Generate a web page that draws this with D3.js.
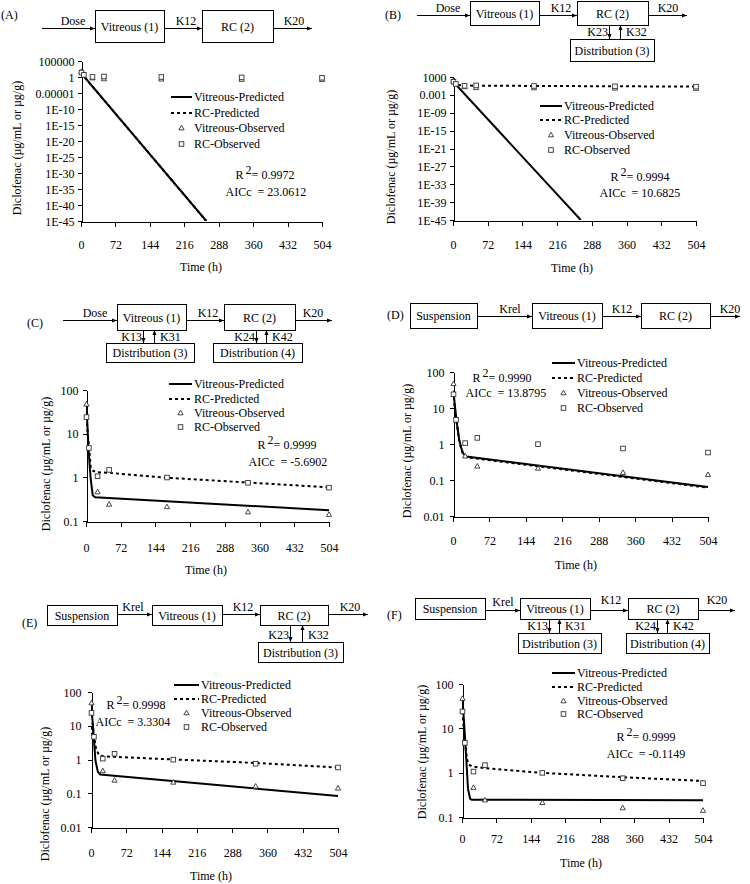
<!DOCTYPE html>
<html><head><meta charset="utf-8">
<script src="https://cdn.jsdelivr.net/npm/d3@7"></script>
<style>
body{margin:0;background:#fff}
svg{display:block;background:#fff}
text{font-family:"Liberation Serif","Times New Roman",serif;font-size:12px;fill:#000}
</style>
</head><body><svg id="c" width="750" height="884"></svg>
<script>
// ---------- data ----------
const xTicks = [0,72,144,216,288,360,432,504];

const vitObsTime = [1,24,48,168,336,504];
const vitObs     = [47,0.46,0.24,0.21,0.16,0.14];
const rcObsTime  = [1,6,24,48,168,336,504];
const rcObs      = [24,4.7,1.06,1.48,0.99,0.75,0.58];

const yTicksA  = [1e5,1,1e-5,1e-10,1e-15,1e-20,1e-25,1e-30,1e-35,1e-40,1e-45];
const yLabelsA = ["100000","1","0.00001","1E-10","1E-15","1E-20","1E-25","1E-30","1E-35","1E-40","1E-45"];
const yTicksB  = [1e3,1e-3,1e-9,1e-15,1e-21,1e-27,1e-33,1e-39,1e-45];
const yLabelsB = ["1000","0.001","1E-09","1E-15","1E-21","1E-27","1E-33","1E-39","1E-45"];
const yTicks3  = [100,10,1,0.1];
const yLabels3 = ["100","10","1","0.1"];
const yTicks4  = [100,10,1,0.1,0.01];
const yLabels4 = ["100","10","1","0.1","0.01"];

const vitPredTimeA = [0,262];
const vitPredA     = [20,1e-45];
const rcPredTimeA  = [0,262];
const rcPredA      = [20,1e-45];

const vitPredTimeB = [0,265];
const vitPredB     = [30,1e-45];
const rcPredTimeB  = [0,4,10,24,168,504];
const rcPredB      = [20,5,2,1.3,1.0,0.6];

const vitPredTimeC = [0,2,5,8,10,14,19,504];
const vitPredC     = [45,25,5.1,1.6,0.87,0.39,0.35,0.177];
const rcPredTimeC  = [1,4,7,10,15,24,48,168,336,504];
const rcPredC      = [24,9,4,1.6,1.4,1.3,1.27,0.98,0.76,0.59];

const vitPredTimeD = [0,2,5,8,12,16,20,26,504];
const vitPredD     = [30,20,8,3.5,1.4,0.8,0.55,0.45,0.064];
const rcPredTimeD  = [1,5,8,12,16,20,26,504];
const rcPredD      = [20,7,3.2,1.3,0.75,0.52,0.43,0.061];

const vitPredTimeE = [0,3,6,9,14,19,504];
const vitPredE     = [40,15,4,0.95,0.43,0.36,0.083];
const rcPredTimeE  = [0.5,3,6,10,16,26,168,336,504];
const rcPredE      = [5,12,5.5,2.2,1.35,1.24,1.0,0.79,0.58];

const vitPredTimeF = [0,3,6,9,12.5,17,20,504];
const vitPredF     = [50,22,7,2,0.43,0.26,0.245,0.24];
const rcPredTimeF  = [1,4,7,10,13,21,48,168,336,504];
const rcPredF      = [24,9,4.2,2.2,1.55,1.38,1.26,0.99,0.79,0.65];

const legendLabels = ["Vitreous-Predicted","RC-Predicted","Vitreous-Observed","RC-Observed"];

// ---------- drawing ----------
const svg = d3.select('#c');
const defs = svg.append('defs');
defs.append('marker').attr('id','ah').attr('viewBox','0 0 10 10')
  .attr('refX',10).attr('refY',5).attr('markerWidth',5).attr('markerHeight',5)
  .attr('markerUnits','userSpaceOnUse').attr('orient','auto')
  .append('path').attr('d','M0,1L10,5L0,9Z').attr('fill','#000');

const MARK = '#333';
function tri(g,cx,cy){ g.append('path').attr('d',`M${cx},${cy-2.8}L${cx+2.6},${cy+1.8}L${cx-2.6},${cy+1.8}Z`).attr('fill','#fff').attr('stroke',MARK).attr('stroke-width',0.9); }
function sq(g,cx,cy){ g.append('rect').attr('x',cx-2.3).attr('y',cy-2.3).attr('width',4.6).attr('height',4.6).attr('fill','#fff').attr('stroke',MARK).attr('stroke-width',0.9); }

function box(x1,y1,x2,y2,label){
  svg.append('rect').attr('x',x1+.5).attr('y',y1+.5).attr('width',x2-x1).attr('height',y2-y1)
    .attr('fill','#fff').attr('stroke','#000').attr('stroke-width',1);
  svg.append('text').attr('x',(x1+x2)/2).attr('y',(y1+y2)/2+4.5).attr('text-anchor','middle').text(label);
}
function harrow(x1,x2,y,label,lx,ly){
  svg.append('line').attr('x1',x1).attr('x2',x2).attr('y1',y+.5).attr('y2',y+.5)
    .attr('stroke','#000').attr('stroke-width',1).attr('marker-end','url(#ah)');
  if(label) svg.append('text').attr('x',lx).attr('y',ly).attr('text-anchor','middle').text(label);
}
function vpair(xd,xu,y1,y2,ll,rl,ty){
  svg.append('line').attr('x1',xd+.5).attr('x2',xd+.5).attr('y1',y1).attr('y2',y2)
    .attr('stroke','#000').attr('marker-end','url(#ah)');
  svg.append('line').attr('x1',xu+.5).attr('x2',xu+.5).attr('y1',y2).attr('y2',y1)
    .attr('stroke','#000').attr('marker-end','url(#ah)');
  svg.append('text').attr('x',xd-1).attr('y',ty).attr('text-anchor','end').text(ll);
  svg.append('text').attr('x',xu+6).attr('y',ty).text(rl);
}
function plabel(x,y,t){ svg.append('text').attr('x',x).attr('y',y).text(t); }

function drawPanel(p){
  const g = svg.append('g');
  const x = d3.scaleLinear().domain([0,504]).range([p.x0,p.x1]);
  const y = d3.scaleLog().domain(p.yDomain).range([p.yBot,p.yTop]);
  const cid = 'clip'+p.id;
  defs.append('clipPath').attr('id',cid).append('rect')
    .attr('x',p.x0).attr('y',p.yTop-20).attr('width',p.x1-p.x0+8).attr('height',p.yBot-p.yTop+20);

  const ya = d3.axisLeft(y).tickValues(p.yTicks).tickFormat((d,i)=>p.yLabels[i])
    .tickSize(4).tickSizeOuter(0).tickPadding(p.yPad);
  const gy = g.append('g').attr('transform',`translate(${p.x0+.5},0)`).call(ya);
  gy.selectAll('text').attr('dy','0.34em');
  const xa = d3.axisBottom(x).tickValues(xTicks).tickSize(5).tickSizeOuter(0);
  const gx = g.append('g').attr('transform',`translate(0,${p.yBot+.5})`).call(xa);
  gx.selectAll('text').attr('y',p.xLabY-p.yBot).attr('dy',0);
  g.selectAll('.domain, .tick line').attr('stroke','#000').attr('shape-rendering','crispEdges');

  const line = d3.line().x(d=>x(d[0])).y(d=>y(d[1]));
  const pl = g.append('g').attr('clip-path',`url(#${cid})`);
  pl.append('path').attr('d',line(d3.zip(p.rcT,p.rcV))).attr('fill','none')
    .attr('stroke','#000').attr('stroke-width',2).attr('stroke-dasharray','3,3');
  pl.append('path').attr('d',line(d3.zip(p.vitT,p.vitV))).attr('fill','none')
    .attr('stroke','#000').attr('stroke-width',2);

  const mk = g.append('g');
  d3.zip(vitObsTime,vitObs).forEach(d=>tri(mk,x(d[0]),y(d[1])));
  d3.zip(rcObsTime,rcObs).forEach(d=>sq(mk,x(d[0]),y(d[1])));

  // axis titles
  g.append('text').attr('x',p.tX).attr('y',p.tY).attr('text-anchor','middle').text('Time (h)');
  g.append('text').attr('transform',`translate(${p.ytX},${p.ytY}) rotate(-90)`)
    .attr('text-anchor','middle').attr('dy','0.35em').text('Diclofenac (µg/mL or µg/g)');

  // legend
  const L = p.leg, lg = g.append('g');
  lg.append('line').attr('x1',L.x1).attr('x2',L.x2).attr('y1',L.ys[0]).attr('y2',L.ys[0]).attr('stroke','#000').attr('stroke-width',2);
  lg.append('line').attr('x1',L.x1).attr('x2',L.x2).attr('y1',L.ys[1]).attr('y2',L.ys[1]).attr('stroke','#000').attr('stroke-width',2).attr('stroke-dasharray','3,3');
  tri(lg,(L.x1+L.x2)/2,L.ys[2]);
  sq(lg,(L.x1+L.x2)/2,L.ys[3]);
  legendLabels.forEach((t,i)=>lg.append('text').attr('x',L.x2+2).attr('y',L.ys[i]).attr('dy','0.35em').text(t));

  // fit stats
  const t1 = g.append('text').attr('x',p.r2X).attr('y',p.r2Y).attr('text-anchor','middle');
  t1.append('tspan').text('R');
  t1.append('tspan').attr('dx',2).attr('dy',-5).text('2');
  t1.append('tspan').attr('dy',5).text('= '+p.r2);
  g.append('text').attr('x',p.aX).attr('y',p.aY).attr('text-anchor','middle')
    .style('white-space','pre').text('AICc  = '+p.aic);
}

// ---------- panels ----------
const panels = [
 {id:'A',x0:81,x1:322,yTop:61,yBot:221,yDomain:[1e-45,1e5],yTicks:yTicksA,yLabels:yLabelsA,yPad:3,
  xLabY:248,tX:201,tY:271,ytX:17,ytY:148,
  leg:{x1:171,x2:192,ys:[97,113,128,144]},r2X:265,r2Y:179,aX:266,aY:196,r2:'0.9972',aic:'23.0612',
  vitT:vitPredTimeA,vitV:vitPredA,rcT:rcPredTimeA,rcV:rcPredA},
 {id:'B',x0:453,x1:696,yTop:77,yBot:220,yDomain:[1e-45,1e3],yTicks:yTicksB,yLabels:yLabelsB,yPad:3,
  xLabY:248,tX:572,tY:272,ytX:391,ytY:157,
  leg:{x1:540,x2:562,ys:[106,120,135,150]},r2X:640,r2Y:181,aX:640,aY:197,r2:'0.9994',aic:'10.6825',
  vitT:vitPredTimeB,vitV:vitPredB,rcT:rcPredTimeB,rcV:rcPredB},
 {id:'C',x0:86,x1:329,yTop:390,yBot:521,yDomain:[0.1,100],yTicks:yTicks3,yLabels:yLabels3,yPad:4,
  xLabY:551,tX:206,tY:574,ytX:46,ytY:464,
  leg:{x1:169,x2:192,ys:[384,399,413,427]},r2X:287,r2Y:449,aX:288,aY:466,r2:'0.9999',aic:'-5.6902',
  vitT:vitPredTimeC,vitV:vitPredC,rcT:rcPredTimeC,rcV:rcPredC},
 {id:'D',x0:453,x1:708,yTop:372,yBot:516,yDomain:[0.01,100],yTicks:yTicks4,yLabels:yLabels4,yPad:5,
  xLabY:544,tX:576,tY:569,ytX:407,ytY:451,
  leg:{x1:552,x2:575,ys:[363,378,393,408]},r2X:502,r2Y:382,aX:506,aY:397,r2:'0.9990',aic:'13.8795',
  vitT:vitPredTimeD,vitV:vitPredD,rcT:rcPredTimeD,rcV:rcPredD},
 {id:'E',x0:91,x1:338,yTop:692,yBot:827,yDomain:[0.01,100],yTicks:yTicks4,yLabels:yLabels4,yPad:6,
  xLabY:856,tX:211,tY:880,ytX:45,ytY:794,
  leg:{x1:174,x2:199,ys:[685,699,713,727]},r2X:136,r2Y:709,aX:133,aY:726,r2:'0.9998',aic:'3.3304',
  vitT:vitPredTimeE,vitV:vitPredE,rcT:rcPredTimeE,rcV:rcPredE},
 {id:'F',x0:462,x1:703,yTop:684,yBot:817,yDomain:[0.1,100],yTicks:yTicks3,yLabels:yLabels3,yPad:5,
  xLabY:842,tX:581,tY:867,ytX:422,ytY:752,
  leg:{x1:552,x2:575,ys:[673,687,701,714]},r2X:646,r2Y:741,aX:646,aY:758,r2:'0.9999',aic:'-0.1149',
  vitT:vitPredTimeF,vitV:vitPredF,rcT:rcPredTimeF,rcV:rcPredF}
];
panels.forEach(drawPanel);

// ---------- compartment diagrams ----------
// A
plabel(1,19,'(A)');
harrow(42,95,28,'Dose',73,25); box(95,10,164,42,'Vitreous (1)');
harrow(164,202,28,'K12',186,25); box(202,10,273,42,'RC (2)');
harrow(273,312,28,'K20',294,25);
// B
plabel(385,19,'(B)');
harrow(417,470,15,'Dose',448,12); box(470,1,539,25,'Vitreous (1)');
harrow(539,577,15,'K12',561,12); box(577,1,648,25,'RC (2)');
harrow(648,687,15,'K20',668,12);
box(570,39,654,61,'Distribution (3)'); vpair(609,620,25,39,'K23','K32',36);
// C
plabel(27,327,'(C)');
harrow(63,117,320,'Dose',95,317); box(117,304,186,330,'Vitreous (1)');
harrow(186,224,320,'K12',208,317); box(224,304,295,330,'RC (2)');
harrow(295,332,320,'K20',313,317);
box(106,343,194,362,'Distribution (3)'); vpair(143,154,330,343,'K13','K31',341);
box(213,343,302,362,'Distribution (4)'); vpair(256,266,330,343,'K24','K42',341);
// D
plabel(387,319,'(D)');
box(410,303,477,328,'Suspension'); harrow(477,532,316,'Krel',510,313);
box(532,303,602,328,'Vitreous (1)'); harrow(602,641,316,'K12',622,313);
box(641,303,710,328,'RC (2)'); harrow(710,740,316,'K20',730,313);
// E
plabel(22,627,'(E)');
box(47,605,117,625,'Suspension'); harrow(117,152,614,'Krel',133,611);
box(152,605,222,625,'Vitreous (1)'); harrow(222,260,614,'K12',243,611);
box(260,605,328,625,'RC (2)'); harrow(328,368,614,'K20',350,611);
box(258,642,343,662,'Distribution (3)'); vpair(290,302,625,642,'K23','K32',639);
// F
plabel(387,619,'(F)');
box(415,598,485,619,'Suspension'); harrow(485,520,610,'Krel',503,606);
box(520,598,590,619,'Vitreous (1)'); harrow(590,628,610,'K12',611,604);
box(628,598,698,619,'RC (2)'); harrow(698,735,610,'K20',717,604);
box(518,633,601,653,'Distribution (3)'); vpair(549,559,619,633,'K13','K31',630);
box(626,633,709,653,'Distribution (4)'); vpair(657,667,619,633,'K24','K42',630);
</script>
</body></html>
